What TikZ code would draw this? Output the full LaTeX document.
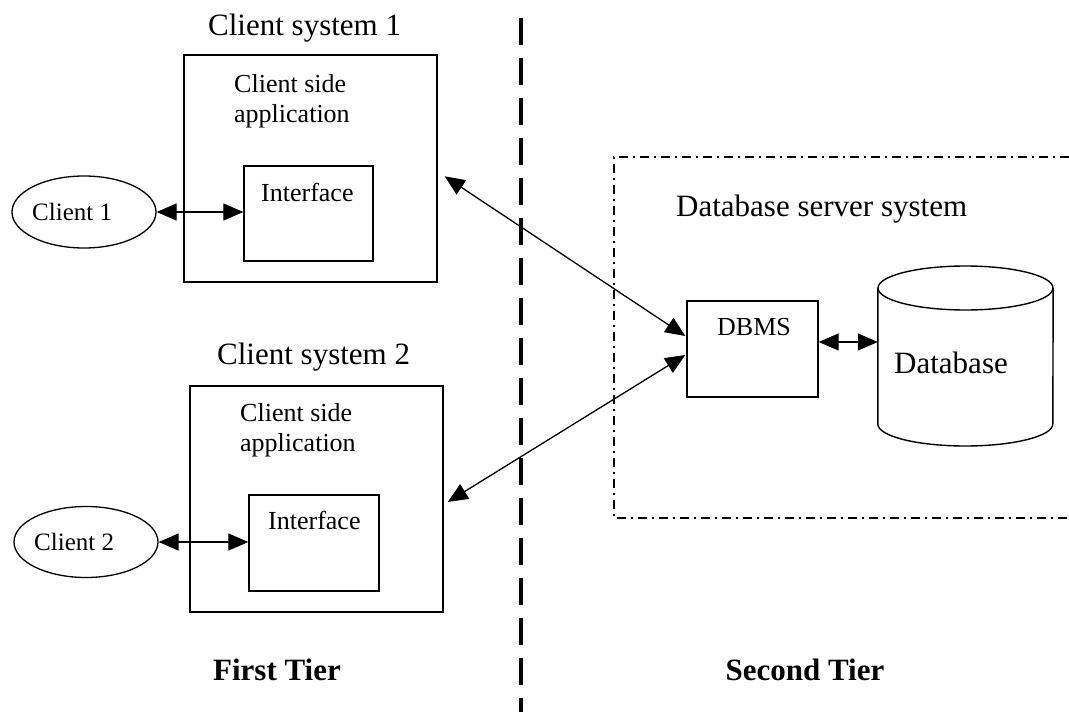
\documentclass[tikz,border=0pt]{standalone}
\usepackage{fontspec}
\setmainfont{Liberation Serif}
\usetikzlibrary{arrows.meta,calc,shapes.geometric}

\newcommand{\fsz}[1]{\fontsize{#1}{#1}\selectfont}

\tikzset{
  x=1pt, y=-1pt,
  frame/.style={draw, line width=1.4pt, inner sep=0pt},
  client/.style={draw, ellipse, line width=1.3pt, inner sep=0pt},
  lbl/.style={inner sep=0pt, anchor=base west},
  title/.style={lbl, font=\fsz{31}},
  small/.style={lbl, font=\fsz{26}},
  tier/.style={inner sep=0pt, anchor=base, font=\fsz{31}\bfseries},
  link/.style={{Triangle[length=20pt,width=17pt]}-{Triangle[length=20pt,width=17pt]}, line width=1.3pt},
  tierline/.style={line width=3.6pt, dash pattern=on 27pt off 13pt},
  serverline/.style={line width=1.6pt, dash pattern=on 9pt off 5pt on 2pt off 5pt},
}

\begin{document}
\begin{tikzpicture}
\useasboundingbox (0,0) rectangle (1069,712);
\fill[white] (0,0) rectangle (1069,712);

% ---------- first tier: client systems ----------
\node[title] at (208,35) {Client system 1};
\node[frame, minimum width=253pt, minimum height=227pt] (sys1) at (310.5,168.5) {};
\node[small] at (234,92) {Client side};
\node[small] at (234,122) {application};
\node[frame, minimum width=129pt, minimum height=95pt] (if1) at (308.5,213.5) {};
\node[small] at (261,201) {Interface};
\node[client, minimum width=144pt, minimum height=72pt] (c1) at (84,212) {};
\node[lbl, font=\fsz{25}] at (32,220) {Client 1};

\node[title] at (217,364) {Client system 2};
\node[frame, minimum width=253pt, minimum height=226pt] (sys2) at (316.5,499) {};
\node[small] at (240,421) {Client side};
\node[small] at (240,451) {application};
\node[frame, minimum width=130pt, minimum height=96pt] (if2) at (314,543) {};
\node[small] at (268,529) {Interface};
\node[client, minimum width=144pt, minimum height=71pt] (c2) at (86,542) {};
\node[lbl, font=\fsz{25}] at (34,550) {Client 2};

\draw[link] (c1.east) -- (c1.east -| if1.west);
\draw[link] (c2.east) -- (c2.east -| if2.west);

% ---------- tier separator ----------
\draw[tierline] (521,18) -- (521,712);

% ---------- second tier: database server ----------
\draw[serverline] (1069,157) -- (614,157) -- (614,518) -- (1069,518);
\node[title] at (676,216) {Database server system};

\node[frame, minimum width=131pt, minimum height=96pt] (dbms) at (752.5,349) {};
\node[small] at (717,335) {DBMS};

% database cylinder
\node[inner sep=0pt, minimum width=175pt, minimum height=180pt] (db) at (965.5,356) {};
\draw[line width=1.4pt]
  (db.west |- 0,288) -- (db.west |- 0,424)
  arc[start angle=180, end angle=360, x radius=87.5pt, y radius=22pt]
  -- (db.east |- 0,288);
\draw[line width=1.4pt] (965.5,288) ellipse [x radius=87.5pt, y radius=22pt];
\node[lbl, font=\fsz{31}] at (894,373) {Database};

\draw[link] ([shift={(0,-7)}]dbms.east) -- ([shift={(0,-7)}]dbms.east -| db.west);

% ---------- links between tiers ----------
\draw[link] ([shift={(7,122)}]sys1.north east) -- ([shift={(-1,-13)}]dbms.west);
\draw[link] ([shift={(4,3)}]sys2.east) -- ([shift={(-1,6)}]dbms.west);

% ---------- tier captions ----------
\node[tier] at (277,680) {First Tier};
\node[tier] at (805,680) {Second Tier};
\end{tikzpicture}
\end{document}
